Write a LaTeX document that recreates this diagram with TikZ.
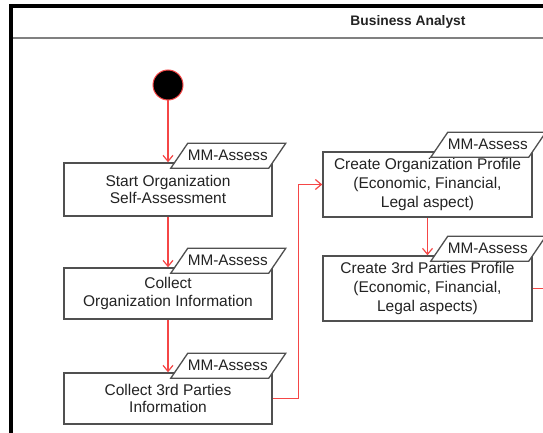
\documentclass[tikz,border=0pt]{standalone}
\usepackage{fontspec}
\setmainfont{Liberation Sans}
\usetikzlibrary{arrows.meta,calc}
\definecolor{flowred}{RGB}{245,70,70}
\definecolor{boxgray}{RGB}{80,80,80}
\definecolor{txt}{RGB}{35,35,35}
\tikzset{
  actbox/.style={draw=boxgray,line width=1.5pt,fill=white,inner sep=0pt,align=center,
    text=txt,font=\fontsize{15.5}{17.5}\selectfont},
  tagshape/.style={draw=boxgray,line width=1.3pt,fill=white},
  tagtext/.style={text=txt,font=\fontsize{15.3}{17}\selectfont,inner sep=0pt},
  flow/.style={draw=flowred,line width=1.2pt,-{Straight Barb[length=6pt,width=10pt]}},
  flowline/.style={draw=flowred,line width=1.2pt},
}
\newcommand\mmtag[1]{%
  \path[tagshape] ($(#1.north east)+(-102,6)$) -- ++(98,0) -- ++(17,-25) -- ++(-98,0) -- cycle;
  \node[tagtext] (#1tag) at ($(#1.north east)+(-45,-6.5)$) {MM-Assess};
}
\begin{document}
\begin{tikzpicture}[x=1pt,y=-1pt]
\useasboundingbox (0,0) rectangle (543,433);
% frame
\draw[black,line width=4pt] (11,435) -- (11,6.5) -- (545,6.5);
\draw[gray,line width=1.5pt] (13,38) -- (545,38);
\node[font=\bfseries\fontsize{13.8}{16}\selectfont,text=txt] (title) at (408,22) {Business Analyst};
% start
\node[circle,fill=black,draw=flowred,line width=1pt,minimum size=30pt,inner sep=0pt] (start) at (168,85) {};
% boxes
\node[actbox,minimum width=208pt,minimum height=53pt] (b1) at (168,189.5) {Start Organization\\Self-Assessment};
\node[actbox,minimum width=208pt,minimum height=51pt] (b2) at (168,293.5) {Collect\\Organization Information};
\node[actbox,minimum width=208pt,minimum height=51pt] (b3) at (168,398.5) {Collect 3rd Parties\\Information};
\node[actbox,minimum width=209pt,minimum height=65pt,font=\fontsize{15.5}{19}\selectfont] (b4) at (427.5,184.5) {Create Organization Profile\\(Economic, Financial,\\Legal aspect)};
\node[actbox,minimum width=209pt,minimum height=65pt,font=\fontsize{15.5}{19}\selectfont] (b5) at (427.5,288.5) {Create 3rd Parties Profile\\(Economic, Financial,\\Legal aspects)};
% connectors
\draw[flow] (start.south) -- (b1.north);
\draw[flow] (b1.south) -- (b2.north);
\draw[flow] (b2.south) -- (b3.north);
\draw[flow] (b3.east) -- ++(26,0) |- (b4.west);
\draw[flow] (b4.south) -- (b5.north);
\coordinate (exit) at (545,288.5);
\draw[flowline] (b5.east) -- (exit);
% tags
\mmtag{b1}
\mmtag{b2}
\mmtag{b3}
\mmtag{b4}
\mmtag{b5}
\end{tikzpicture}
\end{document}
